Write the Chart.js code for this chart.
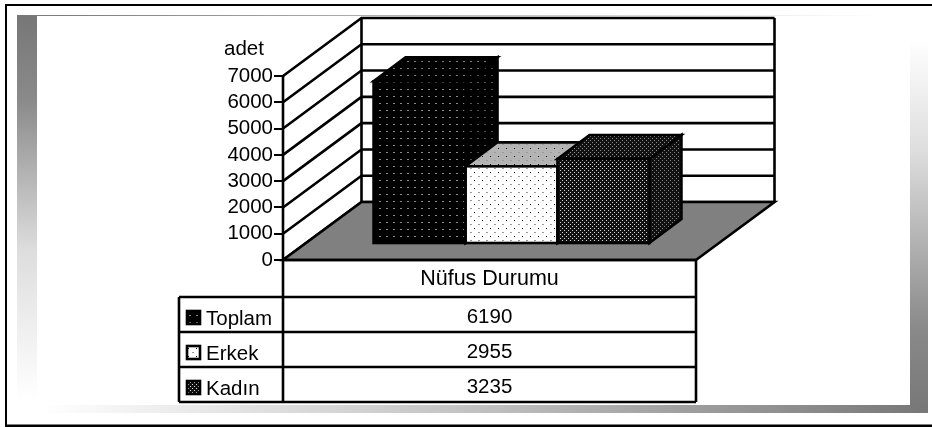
<!DOCTYPE html>
<html>
<head>
<meta charset="utf-8">
<style>
  html, body { margin: 0; padding: 0; background: #fff; overflow: hidden; }
  canvas { display: block; }
</style>
<script src="https://cdn.jsdelivr.net/npm/chart.js@4"></script>
</head>
<body>
<canvas id="grafik" width="932" height="427"></canvas>
<script>
var category = 'Nüfus Durumu';
var yLabel = 'adet';
var seriesNames = ['Toplam', 'Erkek', 'Kadın'];
var seriesValues = [6190, 2955, 3235];
var yTicks = [0, 1000, 2000, 3000, 4000, 5000, 6000, 7000];

var font = '20.5px "Liberation Sans"';
var wallDepth = { x: 78.5, y: -58 };
var barShift = { x: 22, y: -16 };
var barDepth = { x: 32, y: -24 };
var rowTop = 297, rowH = 35, keyLeft = 179;
var lineW = 2.6;

var ctx = document.getElementById('grafik').getContext('2d');

// small repeating dot tiles, the hatching of the old office chart
function dots(bg, size, list) {
  var c = document.createElement('canvas');
  c.width = size; c.height = size;
  var p = c.getContext('2d');
  p.fillStyle = bg;
  p.fillRect(0, 0, size, size);
  list.forEach(function (d) {
    p.fillStyle = d[4];
    p.fillRect(d[0], d[1], d[2], d[3]);
  });
  return ctx.createPattern(c, 'repeat');
}

function darkDots(col) { return [[0, 0, 2, 1, col]]; }
function lightDots(bg) { return dots(bg, 8, [[0, 0, 2, 1, '#999'], [4, 4, 1, 1, '#000']]); }
function denseDots(col) { return [[0, 0, 1, 1, col], [2, 2, 1, 1, col]]; }

var fills = [
  { front: dots('#000', 7, darkDots('#8a8a8a')), top: dots('#000', 7, darkDots('#777')), side: dots('#000', 7, darkDots('#555')) },
  { front: lightDots('#fff'), top: lightDots('#b4b4b4'), side: lightDots('#b4b4b4') },
  { front: dots('#111', 4, denseDots('#d8d8d8')), top: dots('#111', 4, denseDots('#909090')), side: dots('#111', 4, denseDots('#808080')) }
];

function poly(c, pts, fill) {
  c.beginPath();
  pts.forEach(function (p, i) { if (i) c.lineTo(p[0], p[1]); else c.moveTo(p[0], p[1]); });
  c.closePath();
  if (fill) { c.fillStyle = fill; c.fill(); }
  c.stroke();
}

function band(c, x0, y0, x1, y1, stops, rect) {
  var g = c.createLinearGradient(x0, y0, x1, y1);
  stops.forEach(function (s) { g.addColorStop(s[0], s[1]); });
  c.fillStyle = g;
  c.fillRect(rect[0], rect[1], rect[2], rect[3]);
}

var frame = {
  id: 'frame',
  beforeDraw: function (chart) {
    var c = chart.ctx;
    c.save();
    c.fillStyle = '#fff';
    c.fillRect(0, 0, 932, 427);
    band(c, 0, 15, 0, 400, [[0, '#777'], [0.22, '#8a8a8a'], [0.61, '#ddd'], [1, '#fff']], [17, 15, 20, 395]);
    band(c, 17, 0, 880, 0, [[0, '#777'], [1, '#fff']], [17, 15, 880, 1]);
    band(c, 0, 40, 0, 413, [[0, '#fff'], [0.3, '#ddd'], [0.77, '#8a8a8a'], [1, '#777']], [910, 40, 18, 373]);
    band(c, 40, 0, 928, 0, [[0, '#fff'], [0.5, '#c0c0c0'], [1, '#777']], [17, 405, 911, 8]);
    c.fillStyle = '#000';
    c.fillRect(5, 4, 927, 2);
    c.fillRect(5, 4, 2, 423);
    c.fillRect(5, 424.5, 927, 2.5);
    c.restore();
  },
  beforeDatasetsDraw: function (chart) {
    var c = chart.ctx, a = chart.chartArea, y = chart.scales.y;
    var bottom = y.getPixelForValue(0);
    c.save();
    c.strokeStyle = '#000';
    c.lineWidth = lineW;
    // side wall and back wall
    yTicks.forEach(function (v) {
      var py = y.getPixelForValue(v);
      c.beginPath();
      c.moveTo(a.left, py);
      c.lineTo(a.left + wallDepth.x, py + wallDepth.y);
      c.lineTo(a.right + wallDepth.x, py + wallDepth.y);
      c.stroke();
    });
    c.beginPath();
    c.moveTo(a.left, a.top);
    c.lineTo(a.left, bottom);
    c.moveTo(a.left + wallDepth.x, a.top + wallDepth.y);
    c.lineTo(a.left + wallDepth.x, bottom + wallDepth.y);
    c.moveTo(a.right + wallDepth.x, a.top + wallDepth.y);
    c.lineTo(a.right + wallDepth.x, bottom + wallDepth.y);
    c.stroke();
    // floor
    poly(c, [[a.left, bottom], [a.right, bottom], [a.right + wallDepth.x, bottom + wallDepth.y], [a.left + wallDepth.x, bottom + wallDepth.y]], '#808080');
    // tops and sides, left to right, so the later bar covers the earlier one
    c.translate(barShift.x, barShift.y);
    seriesValues.forEach(function (v, i) {
      var b = chart.getDatasetMeta(i).data[0];
      var l = b.x - b.width / 2, r = b.x + b.width / 2;
      var dx = barDepth.x, dy = barDepth.y;
      poly(c, [[r, b.y], [r + dx, b.y + dy], [r + dx, b.base + dy], [r, b.base]], fills[i].side);
      poly(c, [[l, b.y], [r, b.y], [r + dx, b.y + dy], [l + dx, b.y + dy]], fills[i].top);
    });
    c.restore();
    // front faces are the real bars, moved onto the same floor line
    c.save();
    c.translate(barShift.x, barShift.y);
  },
  afterDatasetsDraw: function (chart) {
    var c = chart.ctx;
    // outlines here, the bar's own border leaves a pale seam against a pattern
    c.strokeStyle = '#000';
    c.lineWidth = lineW;
    seriesValues.forEach(function (v, i) {
      var b = chart.getDatasetMeta(i).data[0];
      c.strokeRect(b.x - b.width / 2, b.y, b.width, b.base - b.y);
    });
    c.restore();
  },
  afterDraw: function (chart) {
    var c = chart.ctx, a = chart.chartArea, bottom = chart.scales.y.getPixelForValue(0);
    var mid = (a.left + a.right) / 2;
    var end = rowTop + rowH * seriesNames.length;
    c.save();
    c.strokeStyle = '#000';
    c.lineWidth = lineW;
    c.beginPath();
    c.moveTo(a.left, bottom); c.lineTo(a.right, bottom);
    c.moveTo(a.left, bottom); c.lineTo(a.left, end);
    c.moveTo(a.right, bottom); c.lineTo(a.right, end);
    c.moveTo(keyLeft, rowTop); c.lineTo(keyLeft, end);
    for (var n = 0; n <= seriesNames.length; n++) {
      c.moveTo(keyLeft, rowTop + rowH * n);
      c.lineTo(a.right, rowTop + rowH * n);
    }
    c.stroke();

    c.fillStyle = '#000';
    c.font = font;
    c.textAlign = 'left';
    c.fillText(yLabel, 224, 55);
    c.textAlign = 'center';
    c.font = '21.5px "Liberation Sans"';
    c.fillText(category, mid, 285);
    c.font = font;
    seriesNames.forEach(function (name, i) {
      var top = rowTop + rowH * i;
      c.fillStyle = '#000';
      c.textAlign = 'center';
      c.fillText(seriesValues[i], mid, top + 26);
      c.textAlign = 'left';
      c.fillText(name, 206, top + 28);
      c.fillStyle = fills[i].front;
      c.fillRect(187, top + 14, 13, 13);
      c.strokeRect(187, top + 14, 13, 13);
    });
    c.restore();
  }
};

new Chart(ctx, {
  type: 'bar',
  data: {
    labels: [category],
    datasets: seriesNames.map(function (name, i) {
      return {
        label: name,
        data: [seriesValues[i]],
        backgroundColor: fills[i].front,
        borderWidth: 0,
        categoryPercentage: 0.668,
        barPercentage: 1
      };
    })
  },
  options: {
    responsive: false,
    animation: false,
    layout: { padding: { left: 223, right: 236, top: 76, bottom: 167 } },
    plugins: { legend: { display: false }, tooltip: { enabled: false }, title: { display: false } },
    scales: {
      x: { display: false },
      y: {
        min: 0,
        max: 7000,
        afterFit: function (s) { s.width = 60; },
        afterBuildTicks: function (s) { s.ticks = yTicks.map(function (v) { return { value: v }; }); },
        border: { color: '#000', width: 2 },
        grid: { drawOnChartArea: false, color: '#000', lineWidth: 2, tickLength: 9 },
        ticks: {
          color: '#000',
          padding: 1,
          autoSkip: false,
          callback: function (v) { return String(v); },
          font: { family: 'Liberation Sans', size: 20.5 }
        }
      }
    }
  },
  plugins: [frame]
});
</script>
</body>
</html>
